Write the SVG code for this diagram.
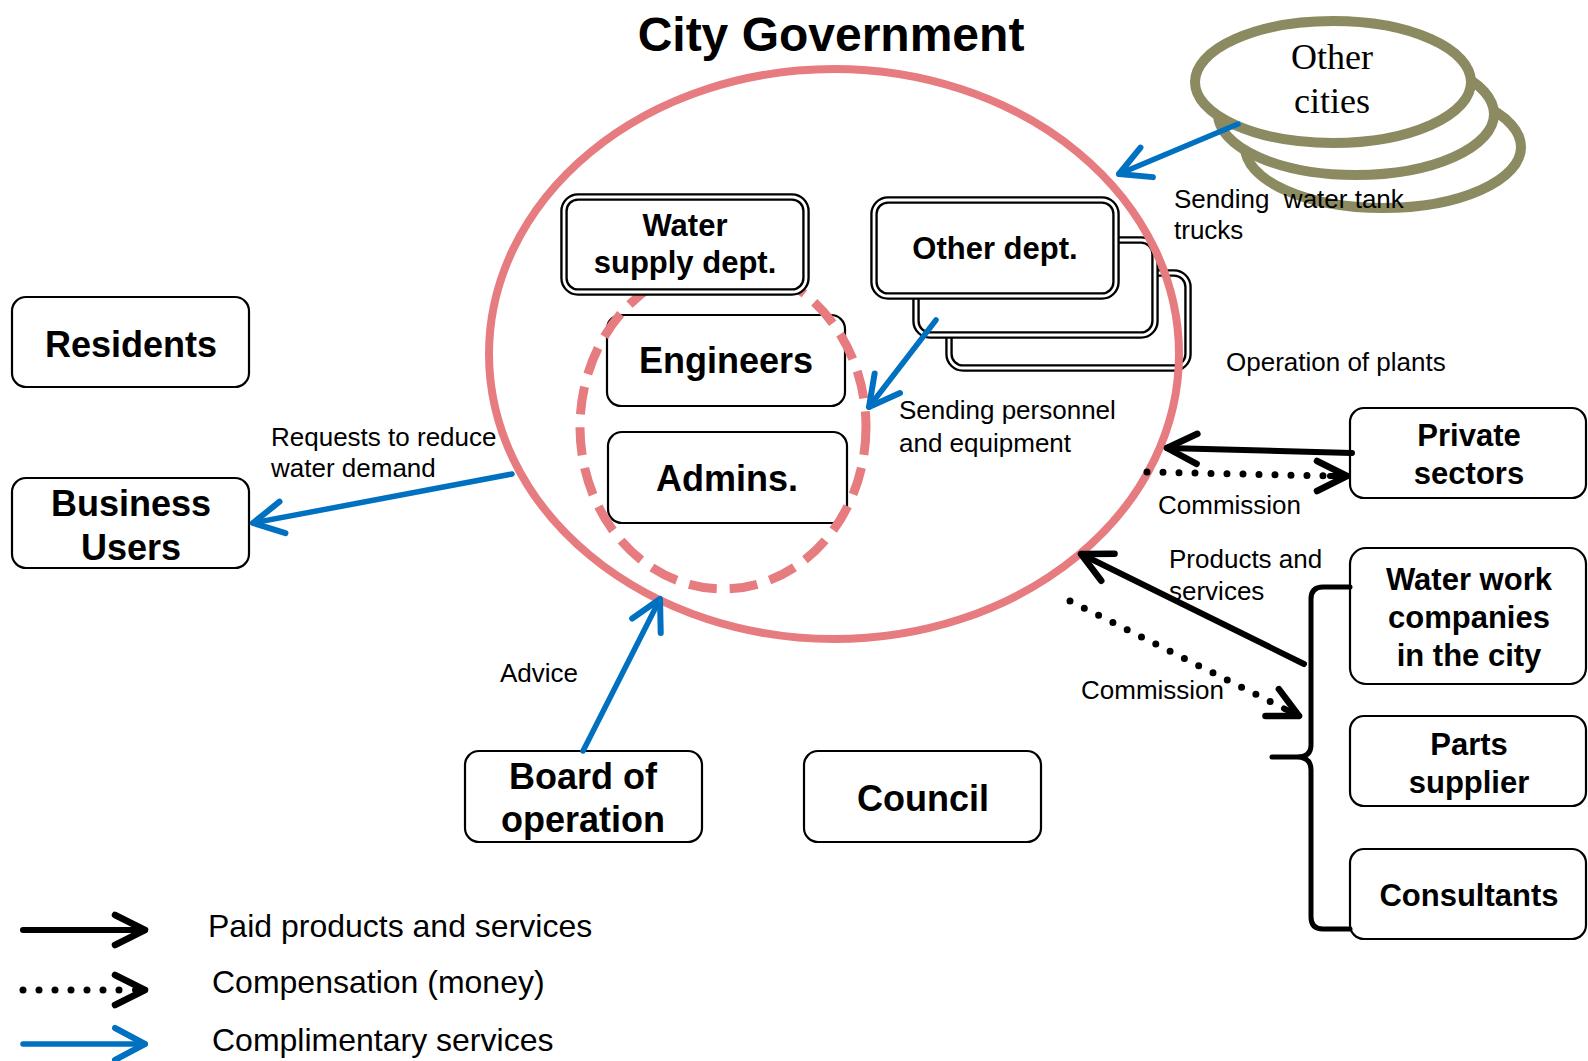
<svg xmlns="http://www.w3.org/2000/svg" width="1588" height="1061" viewBox="0 0 1588 1061">
<style>
.box{fill:#fff;stroke:#000;stroke-width:2.2}
.dbl{fill:#fff;stroke:#000;stroke-width:7.5}
.dbli{fill:none;stroke:#fff;stroke-width:2.8}
.bt{font-family:"Liberation Sans",Arial,sans-serif;font-weight:bold;fill:#000;text-anchor:middle}
.lb{font-family:"Liberation Sans",Arial,sans-serif;font-size:26px;fill:#000;white-space:pre}
.lg{font-family:"Liberation Sans",Arial,sans-serif;font-size:32px;fill:#000}
.city{fill:#fff;stroke:#8C8A60;stroke-width:10}
.blue{fill:none;stroke:#0070C0;stroke-width:5.5;stroke-linecap:round}
.blk{fill:none;stroke:#000;stroke-width:6;stroke-linecap:round}
.dot{fill:none;stroke:#000;stroke-width:7;stroke-linecap:round;stroke-dasharray:0 16}
</style>
<defs>
<marker id="hk" markerUnits="userSpaceOnUse" viewBox="-40 -24 48 48" markerWidth="48" markerHeight="48" refX="0" refY="0" orient="auto" overflow="visible">
<path d="M-30,-15 L0,0 L-30,15" fill="none" stroke="#000" stroke-width="6.5" stroke-linecap="round" stroke-linejoin="round"/>
</marker>
<marker id="hbl" markerUnits="userSpaceOnUse" viewBox="-40 -24 48 48" markerWidth="48" markerHeight="48" refX="0" refY="0" orient="auto" overflow="visible">
<path d="M-30,-16 L0,0 L-30,16" fill="none" stroke="#0070C0" stroke-width="6" stroke-linecap="round" stroke-linejoin="round"/>
</marker>
</defs>
<rect width="1588" height="1061" fill="#fff"/>

<text class="bt" x="831" y="51" font-size="48">City Government</text>

<g id="other-cities">
<ellipse class="city" cx="1383" cy="147" rx="138" ry="61"/>
<ellipse class="city" cx="1356" cy="114" rx="138" ry="61"/>
<ellipse class="city" cx="1333" cy="82" rx="138" ry="61"/>
<text x="1332" y="69" font-family="Liberation Serif,serif" font-size="36" text-anchor="middle">Other</text>
<text x="1332" y="113" font-family="Liberation Serif,serif" font-size="36" text-anchor="middle">cities</text>
</g>

<g id="other-dept">
<rect class="dbl" x="949" y="273" width="239" height="95" rx="14"/>
<rect class="dbli" x="949" y="273" width="239" height="95" rx="14"/>
<rect class="dbl" x="916" y="240" width="239" height="95" rx="14"/>
<rect class="dbli" x="916" y="240" width="239" height="95" rx="14"/>
<rect class="dbl" x="874" y="200" width="242" height="96" rx="14"/>
<rect class="dbli" x="874" y="200" width="242" height="96" rx="14"/>
<text class="bt" x="995" y="259" font-size="31">Other dept.</text>
</g>

<g id="engineers">
<rect class="box" x="607" y="315" width="238" height="91" rx="14"/>
<text class="bt" x="726" y="373" font-size="36">Engineers</text>
</g>
<g id="admins">
<rect class="box" x="608" y="432" width="239" height="91" rx="14"/>
<text class="bt" x="727" y="491" font-size="36">Admins.</text>
</g>

<ellipse id="water-group" cx="723" cy="427" rx="143" ry="162" fill="none" stroke="#E67C80" stroke-width="9" stroke-dasharray="28 13"/>

<g id="water-supply">
<rect class="dbl" x="564" y="197" width="242" height="95" rx="14"/>
<rect class="dbli" x="564" y="197" width="242" height="95" rx="14"/>
<text class="bt" x="685" y="236" font-size="31">Water</text>
<text class="bt" x="685" y="273" font-size="31">supply dept.</text>
</g>

<ellipse id="city-government" cx="834" cy="354" rx="345" ry="285" fill="none" stroke="#E67C80" stroke-width="8"/>

<g id="residents">
<rect class="box" x="12" y="297" width="237" height="90" rx="14"/>
<text class="bt" x="131" y="357" font-size="36">Residents</text>
</g>
<g id="business-users">
<rect class="box" x="12" y="478" width="237" height="90" rx="14"/>
<text class="bt" x="131" y="516" font-size="36">Business</text>
<text class="bt" x="131" y="560" font-size="36">Users</text>
</g>
<g id="board">
<rect class="box" x="465" y="751" width="237" height="91" rx="14"/>
<text class="bt" x="583" y="789" font-size="36">Board of</text>
<text class="bt" x="583" y="832" font-size="36">operation</text>
</g>
<g id="council">
<rect class="box" x="804" y="751" width="237" height="91" rx="14"/>
<text class="bt" x="923" y="811" font-size="36">Council</text>
</g>
<g id="private-sectors">
<rect class="box" x="1350" y="408" width="236" height="90" rx="14"/>
<text class="bt" x="1469" y="446" font-size="31">Private</text>
<text class="bt" x="1469" y="484" font-size="31">sectors</text>
</g>
<g id="water-work">
<rect class="box" x="1350" y="548" width="236" height="136" rx="16"/>
<text class="bt" x="1469" y="590" font-size="31">Water work</text>
<text class="bt" x="1469" y="628" font-size="31">companies</text>
<text class="bt" x="1469" y="666" font-size="31">in the city</text>
</g>
<g id="parts-supplier">
<rect class="box" x="1350" y="716" width="236" height="90" rx="14"/>
<text class="bt" x="1469" y="755" font-size="31">Parts</text>
<text class="bt" x="1469" y="793" font-size="31">supplier</text>
</g>
<g id="consultants">
<rect class="box" x="1350" y="849" width="236" height="90" rx="14"/>
<text class="bt" x="1469" y="906" font-size="31">Consultants</text>
</g>

<g id="connectors">
<path class="blue" d="M1238,124 L1119,174" marker-end="url(#hbl)"/>
<path class="blue" d="M936,320 L869,407" marker-end="url(#hbl)"/>
<path class="blue" d="M512,474 L253,523" marker-end="url(#hbl)"/>
<path class="blue" d="M583,751 L660,599" marker-end="url(#hbl)"/>
<path class="blk" d="M1352,453 L1167,448" marker-end="url(#hk)"/>
<path class="dot" d="M1147,472 L1330,476"/>
<path class="blk" d="M1330,476 L1347,476" stroke-width="0.1" marker-end="url(#hk)"/>
<path class="blk" d="M1304,664 L1081,554" marker-end="url(#hk)"/>
<path class="dot" d="M1070,601 L1283,708"/>
<path class="blk" d="M1284,708.5 L1299,716" stroke-width="0.1" marker-end="url(#hk)"/>
<path d="M1350,587 L1323,587 Q1311,587 1311,599 L1311,745 Q1311,757 1297,757 L1272,757 M1297,757 Q1311,757 1311,770 L1311,917 Q1311,929 1323,929 L1350,929" fill="none" stroke="#000" stroke-width="5" stroke-linecap="round"/>
</g>

<g id="labels">
<text class="lb" x="1174" y="208" xml:space="preserve">Sending  water tank</text>
<text class="lb" x="1174" y="239">trucks</text>
<text class="lb" x="1226" y="371">Operation of plants</text>
<text class="lb" x="899" y="419">Sending personnel</text>
<text class="lb" x="899" y="452">and equipment</text>
<text class="lb" x="271" y="446">Requests to reduce</text>
<text class="lb" x="271" y="477">water demand</text>
<text class="lb" x="1158" y="514">Commission</text>
<text class="lb" x="1169" y="568">Products and</text>
<text class="lb" x="1169" y="600">services</text>
<text class="lb" x="1081" y="699">Commission</text>
<text class="lb" x="500" y="682">Advice</text>
</g>

<g id="legend">
<path class="blk" d="M23,930 L145,930" marker-end="url(#hk)"/>
<path class="dot" d="M23,990 L130,990"/>
<path class="blk" d="M135,990 L145,990" stroke-width="0.1" marker-end="url(#hk)"/>
<path class="blue" d="M23,1044 L145,1044" marker-end="url(#hbl)"/>
<text class="lg" x="208" y="937">Paid products and services</text>
<text class="lg" x="212" y="993">Compensation (money)</text>
<text class="lg" x="212" y="1051">Complimentary services</text>
</g>
</svg>
